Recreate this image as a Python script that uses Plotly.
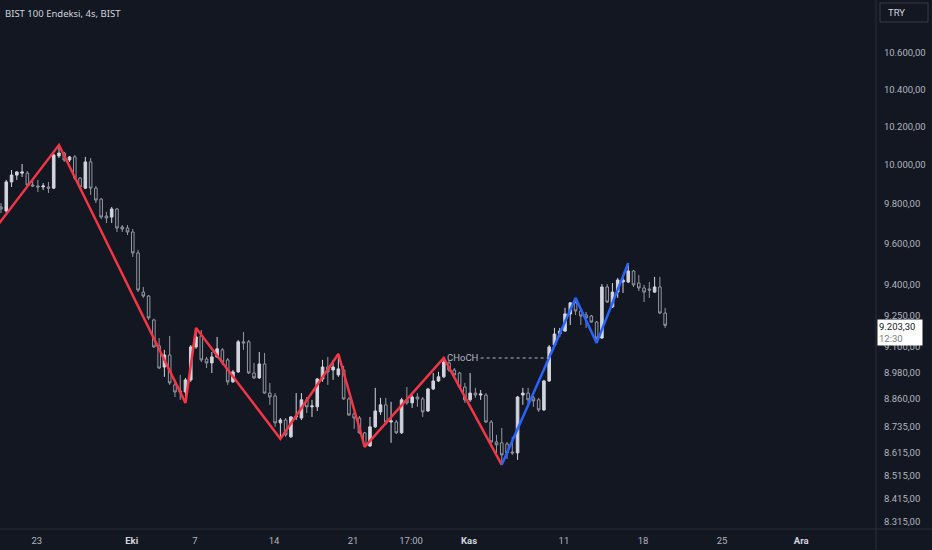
import math
import plotly.graph_objects as go

# 4s mumlar (bar index, OHLC)
opens = [9785, 9765, 9913, 9948, 9958, 9958, 9897, 9892, 9887, 9887,
         9881, 10047, 10062, 10026, 10042, 9933, 9881, 10016, 9881, 9825,
         9739, 9734, 9775, 9684, 9679, 9659, 9555, 9363, 9344, 9229,
         9106, 9007, 9063, 8924, 8896, 8891, 8947, 9101, 9153, 9044,
         9026, 9054, 9087, 9040, 8938, 8984, 9125, 9125, 8979, 8956,
         9021, 8886, 8873, 8750, 8763, 8687, 8777, 8772, 8855, 8823,
         8823, 8951, 9007, 8993, 8970, 8993, 8859, 8791, 8772, 8705,
         8646, 8732, 8800, 8832, 8754, 8754, 8705, 8855, 8841, 8868,
         8859, 8804, 8905, 8942, 8961, 9026, 8993, 8979, 8914, 8855,
         8886, 8877, 8877, 8754, 8664, 8660, 8655, 8619, 8615, 8877,
         8886, 8864, 8855, 8809, 8942, 9110, 9162, 9176, 9258, 9311,
         9272, 9253, 9248, 9219, 9143, 9388, 9291, 9363, 9412, 9412,
         9466, 9407, 9383, 9378, 9363, 9388, 9262]
highs = [9805, 9923, 9974, 9969, 10005, 9969, 9933, 9923, 9907, 9913,
         10062, 10104, 10068, 10047, 10052, 9938, 10042, 10036, 9892, 9830,
         9760, 9785, 9780, 9694, 9694, 9674, 9570, 9388, 9349, 9235,
         9143, 9087, 9153, 8947, 8970, 8956, 9110, 9191, 9181, 9054,
         9077, 9148, 9096, 9049, 8993, 9134, 9172, 9134, 9026, 9077,
         9073, 8933, 8886, 8772, 8772, 8781, 8886, 8886, 8868, 8855,
         8956, 9040, 9054, 9040, 9068, 9012, 8868, 8800, 8781, 8709,
         8777, 8910, 8864, 8864, 8846, 8763, 8864, 8914, 8877, 8886,
         8868, 8910, 8979, 8984, 9049, 9040, 9002, 8984, 8933, 8979,
         8910, 8900, 8886, 8763, 8696, 8727, 8664, 8687, 8873, 8910,
         8910, 8873, 8864, 8947, 9110, 9191, 9191, 9287, 9315, 9335,
         9277, 9267, 9253, 9224, 9402, 9402, 9407, 9432, 9432, 9505,
         9471, 9446, 9398, 9412, 9437, 9437, 9287]
lows = [9754, 9754, 9887, 9923, 9938, 9887, 9887, 9861, 9871, 9856,
        9876, 10036, 10016, 10016, 9923, 9876, 9876, 9846, 9805, 9724,
        9704, 9704, 9659, 9659, 9644, 9535, 9363, 9335, 9229, 9096,
        8998, 8961, 8924, 8868, 8855, 8841, 8938, 9092, 9030, 9002,
        8979, 9049, 9016, 8924, 8933, 8979, 9087, 8974, 8951, 8951,
        8884, 8832, 8732, 8678, 8687, 8682, 8763, 8763, 8795, 8777,
        8804, 8938, 8924, 8947, 8961, 8855, 8781, 8723, 8700, 8642,
        8642, 8727, 8786, 8741, 8660, 8700, 8700, 8832, 8818, 8823,
        8777, 8800, 8900, 8938, 8956, 8984, 8961, 8910, 8841, 8846,
        8864, 8855, 8750, 8660, 8615, 8562, 8588, 8606, 8584, 8832,
        8832, 8823, 8800, 8804, 8938, 9101, 9148, 9172, 9205, 9253,
        9205, 9191, 9215, 9120, 9139, 9311, 9287, 9335, 9359, 9407,
        9388, 9368, 9315, 9335, 9359, 9258, 9191]
closes = [9775, 9913, 9948, 9964, 9964, 9897, 9892, 9887, 9892, 9881,
          10052, 10062, 10026, 10042, 9933, 9887, 10016, 9881, 9820, 9734,
          9729, 9775, 9679, 9674, 9659, 9555, 9373, 9344, 9239, 9101,
          9002, 9063, 8933, 8891, 8891, 8947, 9101, 9148, 9040, 9026,
          9054, 9092, 9030, 8938, 8984, 9125, 9120, 8979, 8956, 9021,
          8886, 8868, 8750, 8763, 8696, 8777, 8781, 8855, 8823, 8827,
          8951, 9007, 8984, 9007, 8998, 8859, 8786, 8772, 8705, 8646,
          8732, 8804, 8832, 8754, 8759, 8705, 8855, 8841, 8868, 8859,
          8800, 8905, 8942, 8961, 9030, 8993, 8970, 8914, 8855, 8886,
          8877, 8882, 8754, 8664, 8651, 8606, 8615, 8615, 8868, 8886,
          8855, 8850, 8809, 8942, 9101, 9162, 9176, 9258, 9311, 9272,
          9248, 9239, 9219, 9143, 9388, 9315, 9363, 9422, 9422, 9466,
          9398, 9383, 9363, 9373, 9388, 9262, 9203.3]
bars = list(range(len(closes)))

# zigzag pivotlari
red_idx = [-1, 11, 35, 37, 53, 64, 69, 84, 95]
red_px = [9680, 10104, 8841, 9191, 8678, 9068, 8642, 9049, 8562]
blue_idx = [95, 109, 113, 119]
blue_px = [8562, 9335, 9120, 9505]

choch_idx = [91, 104]
choch_level = 9049

ytick_vals = [10600, 10400, 10200, 10000, 9800, 9600, 9400, 9250, 9100,
              8980, 8860, 8735, 8615, 8515, 8415, 8315]
ytick_text = ["10.600,00", "10.400,00", "10.200,00", "10.000,00", "9.800,00",
              "9.600,00", "9.400,00", "9.250,00", "9.100,00", "8.980,00",
              "8.860,00", "8.735,00", "8.615,00", "8.515,00", "8.415,00",
              "8.315,00"]
xtick_vals = [6.8, 24.8, 36.8, 51.8, 66.8, 77.8, 88.8, 106.8, 121.8, 136.8, 151.8]
xtick_text = ["23", "Eki", "7", "14", "21", "17:00", "Kas", "11", "18", "25", "Ara"]
month_ticks = ["Eki", "Kas", "Ara"]

last_price = "9.203,30"
last_time = "12:30"

BG = "#131722"
GRID = "#2a2e39"
TXT = "#b2b5be"

fig = go.Figure()
fig.add_trace(go.Candlestick(
    x=bars, open=opens, high=highs, low=lows, close=closes,
    increasing=dict(fillcolor="#d1d4dc", line=dict(color="#d1d4dc", width=1)),
    decreasing=dict(fillcolor=BG, line=dict(color="#9598a1", width=1)),
    whiskerwidth=0, hoverinfo="skip", showlegend=False,
))
fig.add_trace(go.Scatter(x=red_idx, y=red_px, mode="lines",
                         line=dict(color="#f23645", width=2.5),
                         hoverinfo="skip", showlegend=False))
fig.add_trace(go.Scatter(x=blue_idx, y=blue_px, mode="lines",
                         line=dict(color="#2962ff", width=2.5),
                         hoverinfo="skip", showlegend=False))
fig.add_trace(go.Scatter(x=choch_idx, y=[choch_level, choch_level], mode="lines",
                         line=dict(color="#b2b5be", width=1, dash="3px,3px"),
                         hoverinfo="skip", showlegend=False))

fig.add_annotation(x=84.3, y=math.log10(choch_level), xref="x", yref="y",
                   text="CHoCH", showarrow=False, xanchor="left", yanchor="middle",
                   font=dict(family="Roboto", size=9.5, color=TXT))

fig.add_annotation(x=0, y=1, xref="paper", yref="paper", xanchor="left", yanchor="top",
                   xshift=3, yshift=-5, showarrow=False,
                   text="BIST 100 Endeksi, 4s, BIST",
                   font=dict(family="Noto Sans", size=9.5, color="#d1d4dc"))

# TRY kutusu
fig.add_shape(type="rect", xref="paper", yref="paper",
              x0=880 / 876, x1=928 / 876, y0=1 - 22 / 529, y1=1 - 3 / 529,
              line=dict(color="#363a45", width=1), fillcolor=BG)
fig.add_annotation(x=886 / 876, y=1 - 12.5 / 529, xref="paper", yref="paper",
                   xanchor="left", yanchor="middle", showarrow=False, text="TRY",
                   font=dict(family="Roboto", size=9.5, color="#d1d4dc"))

# son fiyat etiketi
fig.add_annotation(x=1, y=math.log10(closes[-1]), xref="paper", yref="y",
                   xanchor="left", yanchor="middle", yshift=-7, xshift=1,
                   showarrow=False, align="left", bgcolor="#ffffff", borderpad=1,
                   width=42,
                   text=last_price + "<br><span style='color:#787b86'>" + last_time + "</span>",
                   font=dict(family="Roboto", size=9.5, color=BG))

# eksen cizgileri
fig.add_shape(type="line", xref="paper", yref="paper", x0=1, x1=1, y0=-21 / 529, y1=1,
              line=dict(color=GRID, width=1))
fig.add_shape(type="line", xref="paper", yref="paper", x0=0, x1=932 / 876, y0=0, y1=0,
              line=dict(color=GRID, width=1))

xt = ["<b><span style='color:#d1d4dc'>%s</span></b>" % t if t in month_ticks else t
      for t in xtick_text]

fig.update_layout(
    width=932, height=550,
    margin=dict(l=0, r=56, t=0, b=21),
    paper_bgcolor=BG, plot_bgcolor=BG,
    showlegend=False,
    font=dict(family="Roboto", size=9.5, color=TXT),
    xaxis=dict(range=[-0.19, 166.0], showgrid=False, zeroline=False,
               tickmode="array", tickvals=xtick_vals, ticktext=xt,
               ticks="outside", ticklen=3, tickcolor="rgba(0,0,0,0)",
               rangeslider=dict(visible=False), fixedrange=True),
    yaxis=dict(type="log", side="right", range=[3.91814, 4.03711],
               showgrid=False, zeroline=False,
               tickmode="array", tickvals=ytick_vals, ticktext=ytick_text,
               ticks="outside", ticklen=5, tickcolor="rgba(0,0,0,0)",
               fixedrange=True),
)

fig.write_html("out.html", config={"displayModeBar": False},
               post_script="document.body.style.margin='0';")
